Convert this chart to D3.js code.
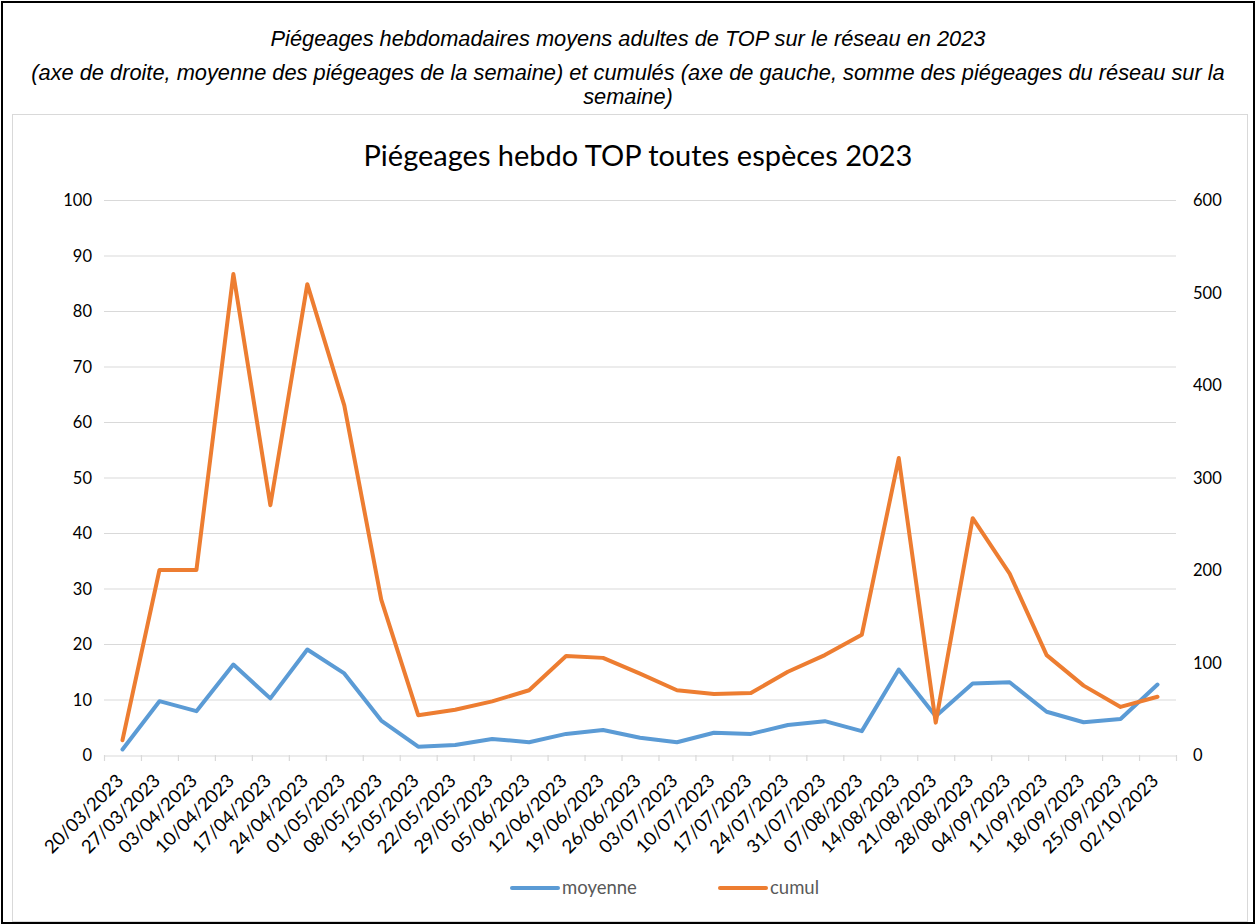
<!DOCTYPE html>
<html>
<head>
<meta charset="utf-8">
<script src="https://cdn.jsdelivr.net/npm/d3@7"></script>
<style>
  body { margin: 0; background: #fff; }
  .note { font-family: "Liberation Sans", Arial, sans-serif; font-style: italic; font-size: 21.8px; fill: #000; }
  .chart text { font-family: Lato, "Open Sans", sans-serif; }
</style>
</head>
<body>
<div id="chart"></div>
<script>
// weeks of 2023
var semaines = ["20/03/2023","27/03/2023","03/04/2023","10/04/2023","17/04/2023","24/04/2023","01/05/2023","08/05/2023",
  "15/05/2023","22/05/2023","29/05/2023","05/06/2023","12/06/2023","19/06/2023","26/06/2023","03/07/2023","10/07/2023",
  "17/07/2023","24/07/2023","31/07/2023","07/08/2023","14/08/2023","21/08/2023","28/08/2023","04/09/2023","11/09/2023",
  "18/09/2023","25/09/2023","02/10/2023"];

// moyenne (left axis 0-100)
var moyenne = [1.0, 9.7, 7.9, 16.3, 10.2, 19.0, 14.7, 6.2, 1.5, 1.8, 2.9, 2.3, 3.8, 4.5, 3.1, 2.3, 4.0, 3.8,
  5.4, 6.1, 4.3, 15.4, 7.0, 12.9, 13.1, 7.8, 5.9, 6.5, 12.7];

// cumul (right axis 0-600)
var cumul = [16, 200, 200, 520, 270, 509, 378, 168, 43, 49, 58, 70, 107, 105, 88, 70, 66, 67,
  90, 108, 130, 321, 35, 256, 196, 108, 75, 52, 63];

var gaucheTicks = [0,10,20,30,40,50,60,70,80,90,100];
var droiteTicks = [0,100,200,300,400,500,600];

var width = 1256, height = 924;
var pLeft = 104, pRight = 1176, pTop = 200, pBottom = 755; // plot area

var svg = d3.select("#chart").append("svg")
  .attr("width", width)
  .attr("height", height);

// outer frame + notes
svg.append("rect").attr("x", 2).attr("y", 2).attr("width", width - 4).attr("height", height - 3)
  .attr("fill", "none").attr("stroke", "#000").attr("stroke-width", 2);

var notes = [
  ["Piégeages hebdomadaires moyens adultes de TOP sur le réseau en 2023", 46],
  ["(axe de droite, moyenne des piégeages de la semaine) et cumulés (axe de gauche, somme des piégeages du réseau sur la", 80],
  ["semaine)", 104]
];
svg.selectAll(".note").data(notes).enter().append("text")
  .attr("class", "note")
  .attr("x", 628)
  .attr("y", function(d) { return d[1]; })
  .attr("text-anchor", "middle")
  .text(function(d) { return d[0]; });

var chart = svg.append("g").attr("class", "chart");

// chart area border
chart.append("rect").attr("x", 12.5).attr("y", 114.5).attr("width", 1235).attr("height", 807)
  .attr("fill", "#fff").attr("stroke", "#d9d9d9").attr("stroke-width", 1);

chart.append("text")
  .attr("x", 638).attr("y", 166)
  .attr("text-anchor", "middle")
  .attr("font-size", "29px")
  .attr("fill", "#000")
  .text("Piégeages hebdo TOP toutes espèces 2023");

var x = d3.scaleBand().domain(semaines).range([pLeft, pRight]).paddingInner(0).paddingOuter(0);
var yG = d3.scaleLinear().domain([0, 100]).range([pBottom, pTop]);
var yD = d3.scaleLinear().domain([0, 600]).range([pBottom, pTop]);

// gridlines
chart.append("g").selectAll("line").data(gaucheTicks.slice(1)).enter().append("line")
  .attr("x1", pLeft).attr("x2", pRight)
  .attr("y1", function(d) { return yG(d) + 0.5; })
  .attr("y2", function(d) { return yG(d) + 0.5; })
  .attr("stroke", "#d9d9d9").attr("stroke-width", 1.2);

// left axis labels
chart.append("g").selectAll("text").data(gaucheTicks).enter().append("text")
  .attr("x", pLeft - 12)
  .attr("y", function(d) { return yG(d) + 6; })
  .attr("text-anchor", "end")
  .attr("font-size", "16.5px")
  .attr("fill", "#000")
  .text(function(d) { return d; });

// right axis labels
chart.append("g").selectAll("text").data(droiteTicks).enter().append("text")
  .attr("x", pRight + 17)
  .attr("y", function(d) { return yD(d) + 6; })
  .attr("text-anchor", "start")
  .attr("font-size", "16.5px")
  .attr("fill", "#000")
  .text(function(d) { return d; });

// bottom axis
var xAxis = d3.axisBottom(x).tickSize(0).tickFormat("");
chart.append("g").attr("transform", "translate(0," + (pBottom + 0.5) + ")").call(xAxis)
  .select(".domain").attr("stroke", "#d9d9d9").attr("stroke-width", 1.2);

var bornes = semaines.map(function(d) { return x(d); }).concat([pRight]);
chart.append("g").selectAll("line").data(bornes).enter().append("line")
  .attr("x1", function(d) { return d + 0.5; })
  .attr("x2", function(d) { return d + 0.5; })
  .attr("y1", pBottom).attr("y2", pBottom + 6)
  .attr("stroke", "#d9d9d9").attr("stroke-width", 1.2);

chart.append("g").selectAll("text").data(semaines).enter().append("text")
  .attr("transform", function(d) {
    return "translate(" + (x(d) + x.bandwidth() / 2 + 2) + "," + (pBottom + 27) + ") rotate(-45)";
  })
  .attr("text-anchor", "end")
  .attr("font-size", "18.5px")
  .attr("fill", "#000")
  .text(function(d) { return d; });

// lines
var cx = function(i) { return x(semaines[i]) + x.bandwidth() / 2; };

var lineG = d3.line().x(function(d, i) { return cx(i); }).y(function(d) { return yG(d); });
var lineD = d3.line().x(function(d, i) { return cx(i); }).y(function(d) { return yD(d); });

chart.append("path").datum(moyenne).attr("d", lineG)
  .attr("fill", "none").attr("stroke", "#5b9bd5").attr("stroke-width", 4)
  .attr("stroke-linejoin", "round").attr("stroke-linecap", "round");

chart.append("path").datum(cumul).attr("d", lineD)
  .attr("fill", "none").attr("stroke", "#ed7d31").attr("stroke-width", 4)
  .attr("stroke-linejoin", "round").attr("stroke-linecap", "round");

// legend
var legende = [["moyenne", "#5b9bd5", 512], ["cumul", "#ed7d31", 720]];
var lg = chart.append("g").selectAll("g").data(legende).enter().append("g")
  .attr("transform", function(d) { return "translate(" + d[2] + ",888)"; });
lg.append("line").attr("x1", 0).attr("x2", 46).attr("y1", 0).attr("y2", 0)
  .attr("stroke", function(d) { return d[1]; }).attr("stroke-width", 4).attr("stroke-linecap", "round");
lg.append("text").attr("x", 50).attr("y", 6)
  .attr("font-size", "18.5px").attr("fill", "#595959")
  .text(function(d) { return d[0]; });
</script>
</body>
</html>
